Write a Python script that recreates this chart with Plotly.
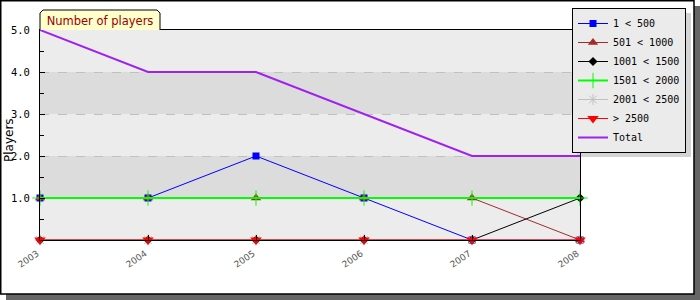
import plotly.graph_objects as go

years = [2003, 2004, 2005, 2006, 2007, 2008]
year_labels = ["2003", "2004", "2005", "2006", "2007", "2008"]
s_1_500 = [1, 1, 2, 1, 0, 0]
s_501_1000 = [1, 1, 1, 1, 1, 0]
s_1001_1500 = [0, 0, 0, 0, 0, 1]
s_1501_2000 = [1, 1, 1, 1, 1, 1]
s_2001_2500 = [0, 0, 0, 0, 0, 0]
s_2500 = [0, 0, 0, 0, 0, 0]
total = [5, 4, 4, 3, 2, 2]
y_ticks = [1, 2, 3, 4, 5]
y_tick_labels = ["1.0", "2.0", "3.0", "4.0", "5.0"]

W, H = 700, 300
L, R, T, B = 40, 580, 30, 240


def px(x):
    return (x - L) / (R - L)


def py(y):
    return (B - y) / (B - T)


fig = go.Figure()

series = [
    ("1 < 500", s_1_500, "#0000ff", 1, dict(symbol="square", size=7, color="#0000ff")),
    ("501 < 1000", s_501_1000, "#a52a2a", 1, dict(symbol="triangle-up", size=9, color="#a52a2a")),
    ("1001 < 1500", s_1001_1500, "#000000", 1, dict(symbol="diamond", size=7, color="#000000")),
    ("1501 < 2000", s_1501_2000, "#00ff00", 2, dict(symbol="cross-thin-open", size=11, color="#00ff00", line=dict(width=1, color="#00ff00"))),
    ("2001 < 2500", s_2001_2500, "#c0c0c0", 1, dict(symbol="asterisk-open", size=9, color="#c0c0c0", line=dict(width=1, color="#b0b0b0"))),
    ("> 2500", s_2500, "#ff0000", 1, dict(symbol="triangle-down", size=10, color="#ff0000")),
]
for name, vals, col, lw, mk in series:
    fig.add_trace(go.Scatter(x=years, y=vals, name=name, mode="lines+markers",
                             line=dict(color=col, width=lw), marker=mk, cliponaxis=False))

fig.add_trace(go.Scatter(x=years, y=total, name="Total", mode="lines",
                         line=dict(color="#a020f0", width=2), cliponaxis=False))

shapes = []
# outer shadow and frame
shapes.append(dict(type="rect", xref="paper", yref="paper", x0=px(6), x1=px(700), y0=py(6), y1=py(300),
                   fillcolor="#666666", line=dict(width=0), layer="below"))
shapes.append(dict(type="rect", xref="paper", yref="paper", x0=px(0.75), x1=px(694), y0=py(0.75), y1=py(294),
                   fillcolor="#ffffff", line=dict(color="#000000", width=1.5), layer="below"))
# bands
band_cols = ["#ececec", "#dcdcdc", "#ececec", "#dcdcdc", "#ececec"]
for i, c in enumerate(band_cols):
    shapes.append(dict(type="rect", xref="paper", yref="y", x0=0, x1=1, y0=i, y1=i + 1,
                       fillcolor=c, line=dict(width=0), layer="below"))
# title tab
tab = [(40, 30), (40, 13), (43, 10), (157, 10), (160, 13), (160, 30)]
path = "M " + " L ".join(f"{px(a)},{py(b)}" for a, b in tab)
shapes.append(dict(type="path", xref="paper", yref="paper", path=path,
                   fillcolor="#ffffcc", line=dict(color="#000000", width=1), layer="above"))

LEG_X, LEG_Y = 572, 8
# legend shadow (approximate legend size)
shapes.append(dict(type="rect", xref="paper", yref="paper", x0=px(LEG_X + 5), x1=px(LEG_X + 5 + 114),
                   y0=py(LEG_Y + 5), y1=py(LEG_Y + 5 + 144),
                   fillcolor="#d4d4d4", line=dict(width=0), layer="below"))

fig.update_layout(
    width=W, height=H,
    margin=dict(l=L, r=W - R, t=T, b=H - B, pad=0, autoexpand=False),
    paper_bgcolor="#ffffff",
    plot_bgcolor="rgba(0,0,0,0)",
    showlegend=True,
    shapes=shapes,
    title=dict(text="Number of players", x=100 / W, y=1 - 20.5 / H, xanchor="center", yanchor="middle",
               xref="container", yref="container",
               font=dict(family="DejaVu Sans", size=11.5, color="#990000")),
    legend=dict(x=LEG_X / W, y=1 - LEG_Y / H, xanchor="left", yanchor="top",
                xref="container", yref="container",
                bgcolor="#ebebeb", bordercolor="#000000", borderwidth=1,
                font=dict(family="DejaVu Sans Mono", size=10, color="#000000"),
                tracegroupgap=0),
    annotations=[dict(text="Players", textangle=-90, xref="paper", yref="paper",
                      x=px(9), y=py(140), xanchor="center", yanchor="middle", showarrow=False,
                      font=dict(family="DejaVu Sans", size=12, color="#000000"))],
)

fig.update_xaxes(range=[2003, 2008], tickvals=years, ticktext=year_labels, tickangle=-35,
                 showgrid=False, zeroline=False, showline=True, mirror=True, linecolor="#000000", linewidth=1,
                 ticks="inside", ticklen=5, tickcolor="#000000", automargin=False,
                 ticklabelstandoff=4, ticklabelshift=-3,
                 tickfont=dict(family="DejaVu Sans", size=9, color="#555555"))
fig.update_yaxes(range=[0, 5], tickvals=y_ticks, ticktext=y_tick_labels,
                 showgrid=True, gridcolor="#c0c0c0", griddash="dash", gridwidth=1,
                 zeroline=False, showline=True, mirror=True, linecolor="#000000", linewidth=1,
                 ticks="inside", ticklen=5, tickcolor="#000000", automargin=False,
                 ticklabelstandoff=7,
                 minor=dict(dtick=0.5, ticks="inside", ticklen=4, tickcolor="#000000", showgrid=False),
                 tickfont=dict(family="DejaVu Sans Mono", size=10.5, color="#000000"))

fig.write_html("out.html")
